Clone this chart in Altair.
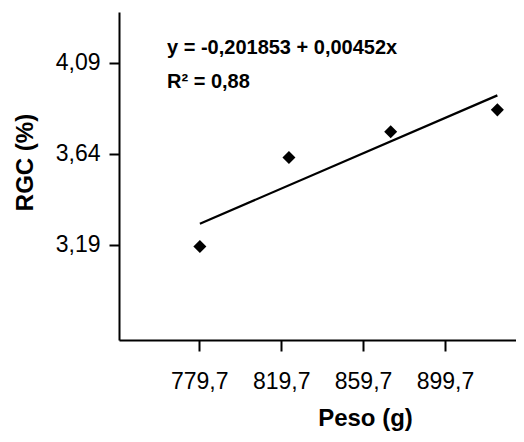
import altair as alt
import pandas as pd

peso = [780.0, 823.5, 873.2, 925.3]
rgc = [3.182, 3.622, 3.750, 3.858]
x_ticks = [779.7, 819.7, 859.7, 899.7]
y_ticks = [3.19, 3.64, 4.09]
eq_text = ["y = -0,201853 + 0,00452x", "R² = 0,88"]

df = pd.DataFrame({"peso": peso, "rgc": rgc})
FONT = "Liberation Sans"

xs = alt.Scale(domain=[740.5, 934.4], nice=False, zero=False)
ys = alt.Scale(domain=[2.72, 4.342], nice=False, zero=False)

xaxis = alt.Axis(values=x_ticks, labelExpr="replace(format(datum.value, '.1f'), '.', ',')",
                 title="Peso (g)", grid=False, domainColor="black", domainWidth=2,
                 tickColor="black", tickWidth=2, tickSize=11, labelPadding=19,
                 labelFont=FONT, labelFontSize=23, labelColor="black",
                 titleFont=FONT, titleFontSize=24, titleFontWeight="bold", titleColor="black",
                 titleX=246, titleY=78, titleBaseline="middle", titleAlign="center")
yaxis = alt.Axis(values=y_ticks, labelExpr="replace(format(datum.value, '.2f'), '.', ',')",
                 title="RGC (%)", grid=False, domainColor="black", domainWidth=2,
                 tickColor="black", tickWidth=2, tickSize=10, labelPadding=9,
                 labelFont=FONT, labelFontSize=23, labelColor="black",
                 titleFont=FONT, titleFontSize=24, titleFontWeight="bold", titleColor="black",
                 titleX=-94, titleY=150, titleBaseline="middle", titleAlign="center", titleAngle=-90)

base = alt.Chart(df)
points = base.mark_point(shape="diamond", filled=True, color="black", size=170, opacity=1).encode(
    x=alt.X("peso:Q", scale=xs, axis=xaxis),
    y=alt.Y("rgc:Q", scale=ys, axis=yaxis),
)
line = base.mark_line(color="black", strokeWidth=2.2).encode(
    x=alt.X("peso:Q", scale=xs), y=alt.Y("rgc:Q", scale=ys)
).transform_regression("peso", "rgc")

ann_df = pd.DataFrame({"t": eq_text, "py": [36, 70]})
ann = alt.Chart(ann_df).mark_text(align="left", baseline="middle", font=FONT, fontSize=20,
                                  fontWeight="bold", color="black").encode(
    x=alt.value(48), y=alt.Y("py:Q", scale=None), text="t:N")

chart = alt.layer(line, points, ann).properties(
    width=397, height=328,
    autosize=alt.AutoSizeParams(type="none"),
    padding={"left": 111, "top": 4, "right": 0, "bottom": 94},
).configure_view(stroke=None)

chart.save("out.html", embed_options={"renderer": "svg", "actions": False})
